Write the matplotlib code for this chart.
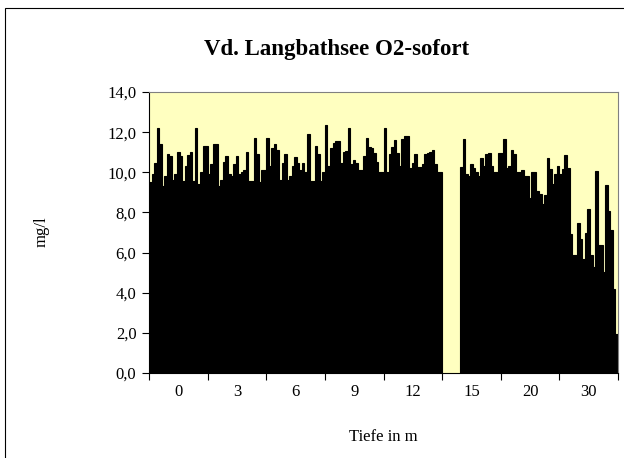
import numpy as np
import matplotlib
matplotlib.use("Agg")
import matplotlib.pyplot as plt
from matplotlib.patches import Rectangle
from matplotlib.ticker import FuncFormatter

plt.rcParams["font.family"] = ["Liberation Serif", "DejaVu Serif"]

depths = ["0", "3", "6", "9", "12", "15", "20", "30"]

# O2 (mg/l) per depth, one value per sampling date
o2_0m = [9.5, 9.9, 10.45, 12.2, 11.4, 9.3, 9.8, 10.9, 10.8, 9.6, 9.9, 11.0,
         10.8, 9.55, 10.3, 10.85, 11.0, 9.55, 12.2, 9.4, 10.0, 11.3, 11.3]
o2_3m = [9.9, 10.4, 11.4, 11.4, 9.3, 9.6, 10.5, 10.8, 9.9, 9.8, 10.4, 10.8,
         9.9, 10.0, 10.1, 11.0, 9.55, 9.55, 11.7, 10.9, 9.5, 10.1, 10.1]
o2_6m = [11.7, 10.3, 11.2, 11.4, 11.1, 9.6, 10.45, 10.9, 9.6, 9.8, 10.3, 10.75,
         10.45, 10.1, 10.45, 10.0, 11.9, 9.55, 9.55, 11.3, 10.9, 9.55, 10.0]
o2_9m = [12.35, 10.3, 11.2, 11.45, 11.55, 11.55, 10.45, 11.0, 11.05, 12.2, 10.4, 10.6,
         10.45, 10.1, 10.1, 10.8, 11.7, 11.25, 11.2, 10.95, 10.5, 10.0, 10.0]
o2_12m = [12.2, 10.0, 10.9, 11.25, 11.6, 10.95, 10.3, 11.65, 11.8, 11.8, 10.2, 10.45,
          10.9, 10.25, 10.25, 10.4, 10.9, 10.95, 11.0, 11.1, 10.4, 10.0, 10.0]
o2_15m = [np.nan] * 7 + [10.25, 11.65, 9.9, 9.8, 10.4, 10.2, 10.0, 9.8, 10.7, 10.3,
                         10.9, 10.95, 10.3, 10.0, 10.0, 10.95]
o2_20m = [10.95, 11.65, 10.2, 10.3, 11.1, 10.9, 10.0, 10.0, 10.1, 9.8, 9.8, 8.7,
          10.0, 10.0, 9.05, 8.9, 8.4, 8.85, 10.7, 10.15, 9.4, 9.9, 10.3]
o2_30m = [9.9, 10.15, 10.85, 10.2, 6.95, 5.9, 5.9, 7.45, 6.7, 5.7, 7.0, 8.15,
          5.9, 5.3, 10.05, 6.4, 6.4, 5.05, 9.35, 8.05, 7.1, 4.2, 1.95]

series = [o2_0m, o2_3m, o2_6m, o2_9m, o2_12m, o2_15m, o2_20m, o2_30m]
n = len(o2_0m)

fig = plt.figure(figsize=(6.24, 4.58), dpi=100)
fig.patches.append(Rectangle((5 / 624, -0.1), 1.0, 1.1 - 8 / 458,
                             transform=fig.transFigure, fill=False,
                             edgecolor="black", linewidth=0.8))

ax = fig.add_axes([149 / 624, 85 / 458, 469 / 624, 281 / 458])
ax.set_facecolor("#FFFFC0")

w = 1.0 / n
for i, vals in enumerate(series):
    x = i + (np.arange(n) + 0.5) * w
    ax.bar(x, vals, width=w, color="black", edgecolor="black", linewidth=0.8)

ax.set_xlim(0, len(depths))
ax.set_ylim(0, 14)
ax.set_yticks(np.arange(0, 15, 2))
ax.yaxis.set_major_formatter(FuncFormatter(lambda v, p: f"{v:.1f}".replace(".", ",")))

ax.set_xticks(np.arange(len(depths) + 1))
ax.set_xticklabels([])
ax.set_xticks(np.arange(len(depths)) + 0.5, minor=True)
ax.set_xticklabels(depths, minor=True)
ax.tick_params(axis="x", which="minor", length=0, pad=8, labelsize=12)
ax.tick_params(axis="x", which="major", length=5, direction="out")
ax.tick_params(axis="y", length=5, direction="out", labelsize=12, pad=4)

for s in ["top", "right"]:
    ax.spines[s].set_color("#808080")
for s in ["left", "bottom"]:
    ax.spines[s].set_color("black")

fig.text(337 / 624, 1 - 50 / 458, "Vd. Langbathsee O2-sofort", ha="center",
         va="center", fontsize=16.5, fontweight="bold")
fig.text(42 / 624, 1 - 232 / 458, "mg/l", rotation=90, ha="center",
         va="center", fontsize=12)
fig.text(383 / 624, 1 - 437 / 458, "Tiefe in m", ha="center", va="center",
         fontsize=12)

fig.savefig("out.png", dpi=100)
